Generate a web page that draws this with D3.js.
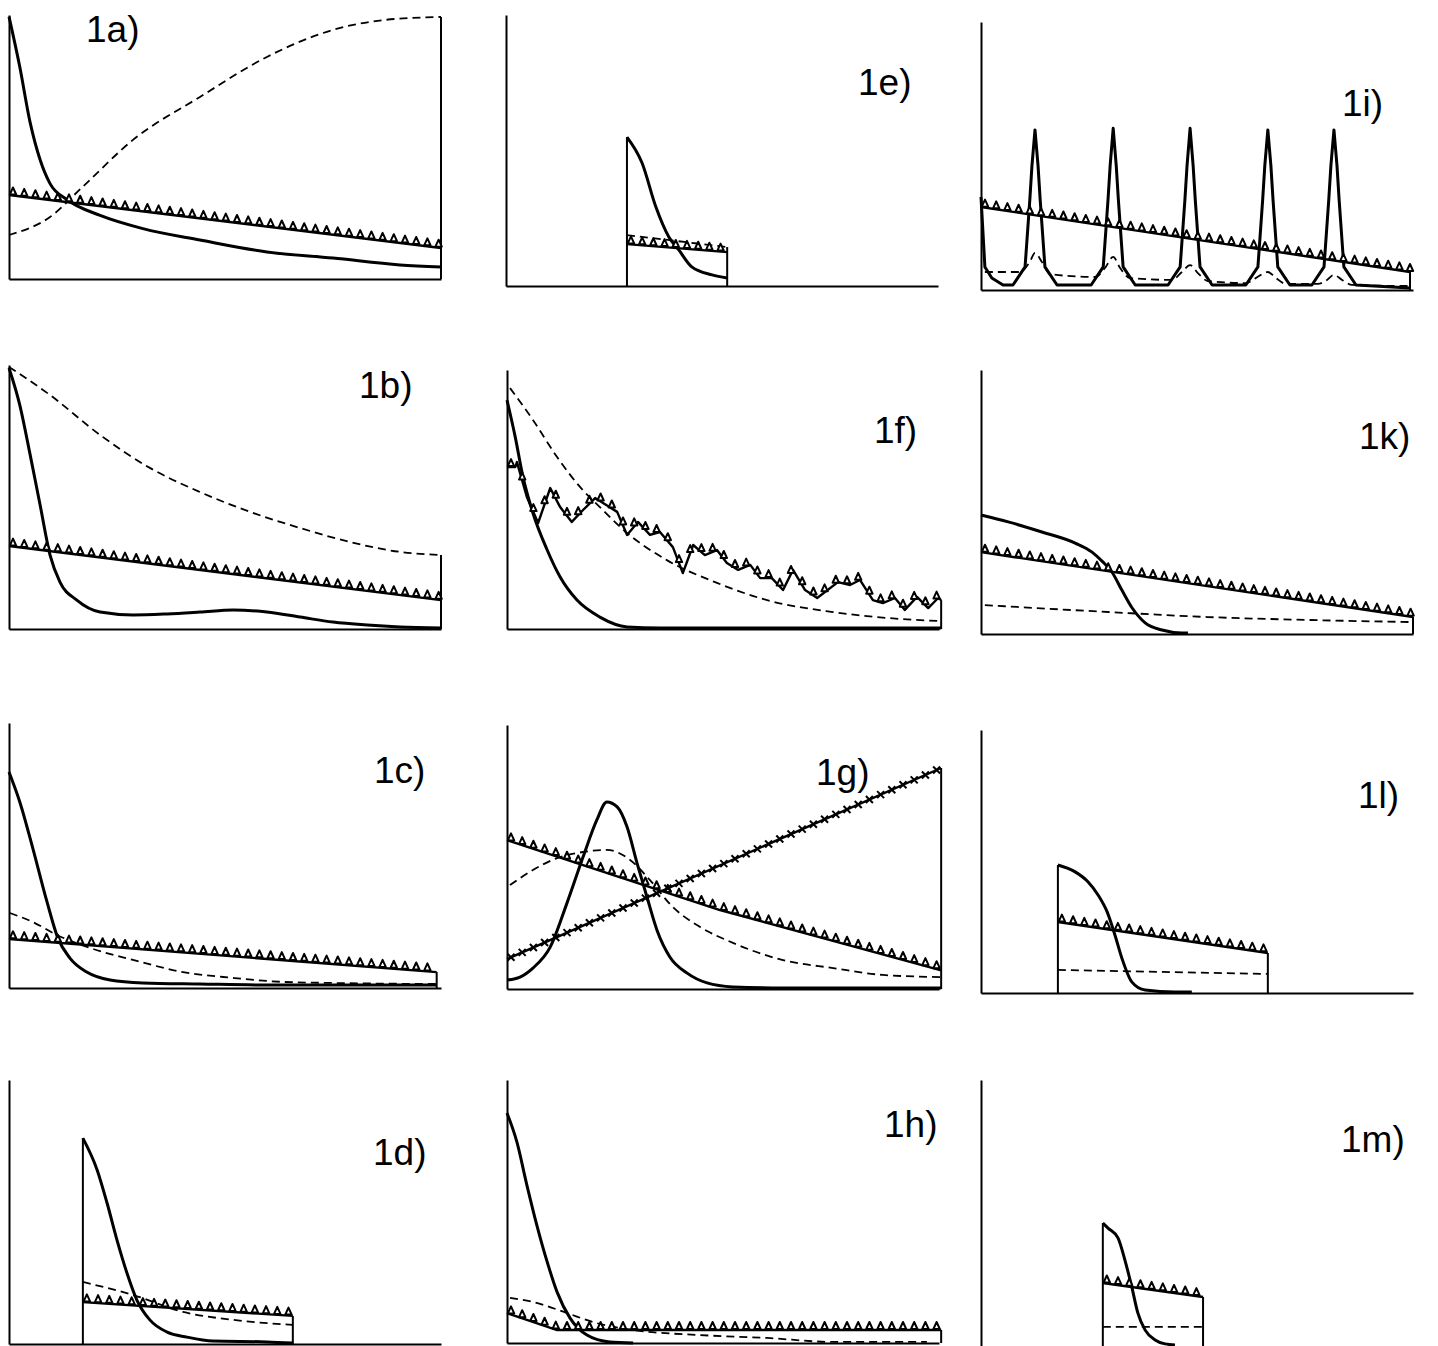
<!DOCTYPE html>
<html>
<head>
<meta charset="utf-8">
<script src="https://cdn.jsdelivr.net/npm/d3@7"></script>
<style>
body { margin: 0; background: #fff; }
svg { display: block; }
</style>
</head>
<body>
<svg id="chart" width="1438" height="1346"></svg>
<script>
// panel labels, in drawing order (row by row)
var labels = ["1a)", "1e)", "1i)", "1b)", "1f)", "1k)", "1c)", "1g)", "1l)", "1d)", "1h)", "1m)"];

// x extent of the curves in each panel (% of axis width)
var ranges = [[0, 100], [28, 51.2], [0, 99.3], [0, 100], [0, 100.5], [0, 100],
              [0, 99], [0, 100.5], [17.8, 66.4], [17.1, 65.7], [0, 100.5], [28.2, 51.4]];

// values are [x %, y %]
var solid1a = [[0,99],[2.5,80],[4.9,59],[7.2,45],[9.5,36],[13.4,30],[21.1,24],[31,19],[44.2,14.7],[59.7,10.2],[75,7.9],[90.5,5.3],[100,4.5]];
var dashed1a = [[0,16.6],[9.5,23.4],[17,34.7],[28.7,52.5],[44.2,68.7],[59.7,83.8],[75,94],[86.6,97.7],[100,98.9]];
var tri1a = [[0,31.7],[100,11.7]];

var solid1e = [[28,56.2],[31.5,46.4],[34.7,29.8],[37.7,18.5],[40,13.6],[43,7.2],[47.7,4.2],[51.2,3]];
var dashed1e = [[28,19.2],[51.2,14.7]];
var tri1e = [[28,15.8],[51.2,12.8]];

var solid1i = [[0,35.1],[0.9,8.7],[2.5,4.5],[5.1,1.9],[7.4,1.9],[10.2,8.7],[11.3,34],[11.8,47],[12.5,60.4],[13.2,47],[13.7,34],[14.8,8.7],[17.6,1.9],
  [25.5,1.9],[28.3,8.7],[29.4,34],[29.9,47],[30.6,61],[31.3,47],[31.8,34],[32.9,8.7],[35.7,1.9],
  [43.3,1.9],[46.1,8.7],[47.2,34],[47.7,47],[48.4,61],[49.1,47],[49.6,34],[50.7,8.7],[53.5,1.9],
  [61.3,1.9],[64.1,8.7],[65.2,34],[65.7,47],[66.4,60.4],[67.1,47],[67.6,34],[68.7,8.7],[71.5,1.9],
  [76.6,1.9],[79.4,8.7],[80.5,34],[81,47],[81.7,60.4],[82.4,47],[82.9,34],[84,8.7],[86.8,1.9],[99.3,0.8]];
var dashed1i = [[0.9,6.8],[9,6.8],[11.3,10.6],[12.5,14],[14.1,10.6],[16,6],[26.4,4.9],[28.7,8.3],[30.6,12.5],[32.2,8.3],[34.5,4.5],
  [44.2,3.8],[46.5,6.8],[48.4,9.4],[50.2,6.4],[52.5,3.4],[61.3,2.6],[63.6,4.5],[66.4,6.8],[68.3,4.5],[70.6,2.3],
  [78,2.3],[80.1,3.8],[81.7,5.7],[83.6,3.8],[85.9,1.9],[99.3,1.5]];
var tri1i = [[0,31.3],[99.3,6.8]];

var solid1b = [[0,98.5],[2.5,84.5],[4.9,65.7],[7.2,46.8],[9.5,27.9],[11.8,17.7],[15.7,10.9],[21.1,6.4],[28.7,5.3],[36.6,5.7],[44.2,6.4],[51.9,7.2],[59.7,6.4],[67.4,4.5],[75,2.6],[82.9,1.5],[90.5,0.8],[100,0.4]];
var dashed1b = [[0,98.9],[9.5,88.3],[21.1,73.2],[32.6,60.8],[44.2,51.7],[55.8,44.2],[67.4,38.1],[79,32.8],[90.5,29.1],[100,27.9]];
var tri1b = [[0,31.3],[100,10.9]];

var solid1f = [[0,86.4],[1.9,72.5],[3.7,57.4],[6,43.8],[9.3,29.8],[12.3,19.6],[16.2,10.9],[21.5,4.5],[27.8,0.8],[35.4,0.4],[100.5,0.4]];
var dashed1f = [[0.7,90.9],[6,78.9],[11.6,64.9],[16.9,53.6],[21.5,46],[27.8,36.2],[37,26],[48.6,17.4],[60.2,10.9],[75.5,6.4],[91,3.8],[100.5,3]];
var tri1f = [[0,61.1],[1.9,61.1],[2.3,63],[4.6,49.8],[7.2,40],[10,53.2],[12.3,46],[15,40.4],[17.6,44.9],[20.4,49.4],[25.5,44.2],[27.8,35.5],
  [30.3,40.4],[33.1,35.5],[35.4,36.6],[38.4,30.9],[40.7,21.1],[43.1,31.7],[45.8,27.9],[48.6,29.8],[50.9,24.9],[53.5,22.3],[56.3,24.2],
  [58.6,19.2],[61.3,19.2],[63.9,14.7],[66.2,22.3],[69,14.7],[71.8,11.7],[76.6,17.7],[79.4,16.6],[81.7,18.5],[84.7,10.9],[87,9.8],
  [89.8,11.7],[92.1,7.2],[94.9,12.1],[97.5,7.9],[99.8,11.7],[100.5,10.9]];

var solid1k = [[0,44.9],[6.3,42.3],[14.1,38.5],[21.8,34.3],[25.7,30.9],[28.2,27.2],[30.3,23.4],[32.6,16.6],[35,9.8],[38,4.2],[41.9,1.5],[46.5,0.4],[47.9,0.4]];
var dashed1k = [[0.9,10.9],[29.4,8.3],[52.5,6.4],[75.7,5.3],[100,4.5]];
var tri1k = [[0,30.9],[100,6.4]];

var solid1c = [[0,81.5],[2.5,70.2],[5.5,52.8],[8.8,32.5],[11.3,18.9],[14.1,11.3],[18,6],[23.4,3],[31,1.9],[44.2,1.5],[62,1.1],[99,1.1]];
var dashed1c = [[0.2,28.3],[5.5,24.9],[11.1,20],[18.8,15.1],[28.7,10.6],[40.3,6],[51.9,3.8],[63.4,2.3],[75,1.9],[99,1.5]];
var tri1c = [[0,18.5],[99,6]];

var solid1g = [[0,3.4],[3,4.5],[6,7.9],[10,15.8],[13.9,32.5],[17.6,49.8],[20.8,63.8],[23.1,70.6],[25.5,68.7],[27.8,61.1],[30.1,47.5],[32.4,34.7],[34.7,22.3],[37.7,12.1],[41.7,6],[46.3,2.3],[52.3,0.8],[63.9,0.4],[100.5,0.4]];
var dashed1g = [[0.7,39.2],[6,44.9],[11.6,49.4],[17.6,51.7],[23.1,52.5],[28.5,48.7],[33.1,41.1],[38.4,30.9],[44.7,23.4],[52.3,17.4],[63.9,10.9],[75.5,7.9],[87,5.3],[100.5,4.5]];
var tri1g = [[0,56.2],[49.3,29.8],[100.5,7]];
var cross1g = [[0,11.3],[100.5,83.4]];

var solid1l = [[17.8,48.3],[21.8,45.7],[24.8,41.9],[27.1,37],[29.2,30.6],[31,21.9],[32.6,13.2],[34.9,4.2],[38,1.1],[44.9,0.4],[48.8,0.4]];
var dashed1l = [[17.8,8.7],[66.4,7.2]];
var tri1l = [[17.8,26.8],[66.4,15.1]];

var solid1d = [[17.1,77.7],[20.4,65.7],[22.7,53.2],[25,39.2],[27.3,26.8],[29.6,16.6],[32.6,9.1],[36.6,4.5],[41.2,2.6],[47.2,1.1],[59.7,0.8],[65.7,0.4]];
var dashed1d = [[17.1,23.4],[28.7,18.5],[40.3,12.1],[51.9,9.1],[65.7,7.2]];
var tri1d = [[17.1,15.8],[65.7,10.6]];

var solid1h = [[0,86.8],[2.3,75.8],[4.6,59.6],[6.9,44.5],[9.3,30.6],[11.6,19.2],[14.6,9.4],[18.5,3],[23.8,0.4],[29.2,0]];
var dashed1h = [[0.7,17],[6,15.5],[13.9,11.3],[19.9,7.9],[29.2,4.9],[44.7,3],[60.2,1.9],[75.5,0.4],[97.2,0.4]];
var tri1h = [[0,11.3],[11.6,4.9],[100.5,4.9]];

var solid1m = [[28.2,47.9],[29.4,46],[31.7,42.3],[33.3,34],[34.9,23.8],[36.3,14],[38,7.5],[40.3,3.8],[42.6,2.3],[44.9,1.9]];
var dashed1m = [[28.2,8.7],[51.4,8.7]];
var tri1m = [[28.2,25.3],[51.4,20]];

// series of each panel
var panelSeries = [
  [{d: dashed1a, kind: "dashed"}, {d: solid1a, kind: "solid"}, {d: tri1a, kind: "tri"}],
  [{d: dashed1e, kind: "dashed"}, {d: solid1e, kind: "solid"}, {d: tri1e, kind: "tri"}],
  [{d: dashed1i, kind: "dashed"}, {d: solid1i, kind: "solid", linear: true}, {d: tri1i, kind: "tri"}],
  [{d: dashed1b, kind: "dashed"}, {d: solid1b, kind: "solid"}, {d: tri1b, kind: "tri"}],
  [{d: dashed1f, kind: "dashed"}, {d: solid1f, kind: "solid"}, {d: tri1f, kind: "tri"}],
  [{d: dashed1k, kind: "dashed"}, {d: solid1k, kind: "solid"}, {d: tri1k, kind: "tri"}],
  [{d: dashed1c, kind: "dashed"}, {d: solid1c, kind: "solid"}, {d: tri1c, kind: "tri"}],
  [{d: dashed1g, kind: "dashed"}, {d: solid1g, kind: "solid"}, {d: tri1g, kind: "tri"}, {d: cross1g, kind: "cross"}],
  [{d: dashed1l, kind: "dashed"}, {d: solid1l, kind: "solid"}, {d: tri1l, kind: "tri"}],
  [{d: dashed1d, kind: "dashed"}, {d: solid1d, kind: "solid"}, {d: tri1d, kind: "tri"}],
  [{d: dashed1h, kind: "dashed"}, {d: solid1h, kind: "solid"}, {d: tri1h, kind: "tri"}],
  [{d: dashed1m, kind: "dashed"}, {d: solid1m, kind: "solid"}, {d: tri1m, kind: "tri"}]
];

// where each panel sits on the page
var W = 432, H = 265;
var layout = [
  {left: 9,   bottom: 279,  top: 15},   {left: 506, bottom: 286,  top: 15},   {left: 981, bottom: 290,  top: 22},
  {left: 9,   bottom: 629,  top: 365},  {left: 507, bottom: 629,  top: 370},  {left: 981, bottom: 634,  top: 370},
  {left: 9,   bottom: 988,  top: 723},  {left: 507, bottom: 989,  top: 725},  {left: 981, bottom: 993,  top: 730},
  {left: 9,   bottom: 1344, top: 1080}, {left: 507, bottom: 1343, top: 1080}, {left: 981, bottom: 1350, top: 1080}
];
var labelPos = [[86, 42], [858, 95], [1342, 116], [359, 398], [874, 443], [1359, 449],
                [374, 783], [816, 785], [1358, 808], [373, 1165], [884, 1137], [1341, 1152]];

var svg = d3.select("#chart");
var markerStep = 11.2;

panelSeries.forEach(function(series, i) {
  var L = layout[i];
  var range = ranges[i];
  var x = d3.scaleLinear().domain([0, 100]).range([L.left, L.left + W]);
  var y = d3.scaleLinear().domain([0, 100]).range([L.bottom, L.bottom - H]);
  var g = svg.append("g").attr("class", "panel");

  // axes (just the two lines, no ticks)
  var yAxisScale = d3.scaleLinear()
    .domain([0, (L.bottom - L.top) / H * 100])
    .range([L.bottom, L.top]);
  g.append("g")
    .attr("transform", "translate(" + L.left + ",0)")
    .call(d3.axisLeft(yAxisScale).tickValues([]).tickSizeOuter(0));
  g.append("g")
    .attr("transform", "translate(0," + L.bottom + ")")
    .call(d3.axisBottom(x).tickValues([]).tickSizeOuter(0));
  g.selectAll(".domain").attr("stroke", "#000").attr("stroke-width", 2);

  // vertical closing lines at both ends of the curves
  function endMax(xv) {
    var m = 0;
    series.forEach(function(s) {
      s.d.forEach(function(pt) { if (pt[0] === xv) m = Math.max(m, pt[1]); });
    });
    return m;
  }
  range.forEach(function(xv) {
    if (xv === 0) return;
    g.append("line")
      .attr("x1", x(xv)).attr("x2", x(xv))
      .attr("y1", y(0)).attr("y2", y(endMax(xv)))
      .attr("stroke", "#000").attr("stroke-width", 2);
  });

  series.forEach(function(s) {
    var curve = (s.kind === "solid" && !s.linear) || s.kind === "dashed" ? d3.curveMonotoneX : d3.curveLinear;
    var line = d3.line()
      .x(function(d) { return x(d[0]); })
      .y(function(d) { return y(d[1]); })
      .curve(curve);
    var path = g.append("path")
      .datum(s.d)
      .attr("d", line)
      .attr("fill", "none")
      .attr("stroke", "#000")
      .attr("stroke-linejoin", "round");
    if (s.kind === "solid") path.attr("stroke-width", 3);
    if (s.kind === "dashed") path.attr("stroke-width", 1.8).attr("stroke-dasharray", "8,5");
    if (s.kind === "tri" || s.kind === "cross") path.attr("stroke-width", 2.4);

    if (s.kind === "tri" || s.kind === "cross") {
      // markers along the line, evenly spaced in x
      var along = d3.scaleLinear()
        .domain(s.d.map(function(d) { return d[0]; }))
        .range(s.d.map(function(d) { return d[1]; }));
      var x0 = x(s.d[0][0]) + 4, x1 = x(s.d[s.d.length - 1][0]);
      var pts = d3.range(x0, x1 + 1, markerStep).map(function(px) {
        var xv = x.invert(Math.min(px, x1));
        return [xv, along(xv)];
      });
      var mk = g.selectAll(null).data(pts).enter().append("path")
        .attr("transform", function(d) { return "translate(" + x(d[0]) + "," + (y(d[1]) - (s.kind === "tri" ? 1 : 0)) + ")"; })
        .attr("stroke", "#000")
        .attr("stroke-width", 2);
      if (s.kind === "tri") {
        mk.attr("d", "M-3.2,0L0,-7L3.2,0Z").attr("fill", "#fff").attr("stroke-linejoin", "round");
      } else {
        mk.attr("d", "M-3.5,-3.5L3.5,3.5M-3.5,3.5L3.5,-3.5").attr("fill", "none");
      }
    }
  });

  g.append("text")
    .attr("x", labelPos[i][0])
    .attr("y", labelPos[i][1])
    .attr("font-family", "Liberation Sans, Arial, sans-serif")
    .attr("font-size", 37)
    .attr("fill", "#000")
    .text(labels[i]);
});
</script>
</body>
</html>
